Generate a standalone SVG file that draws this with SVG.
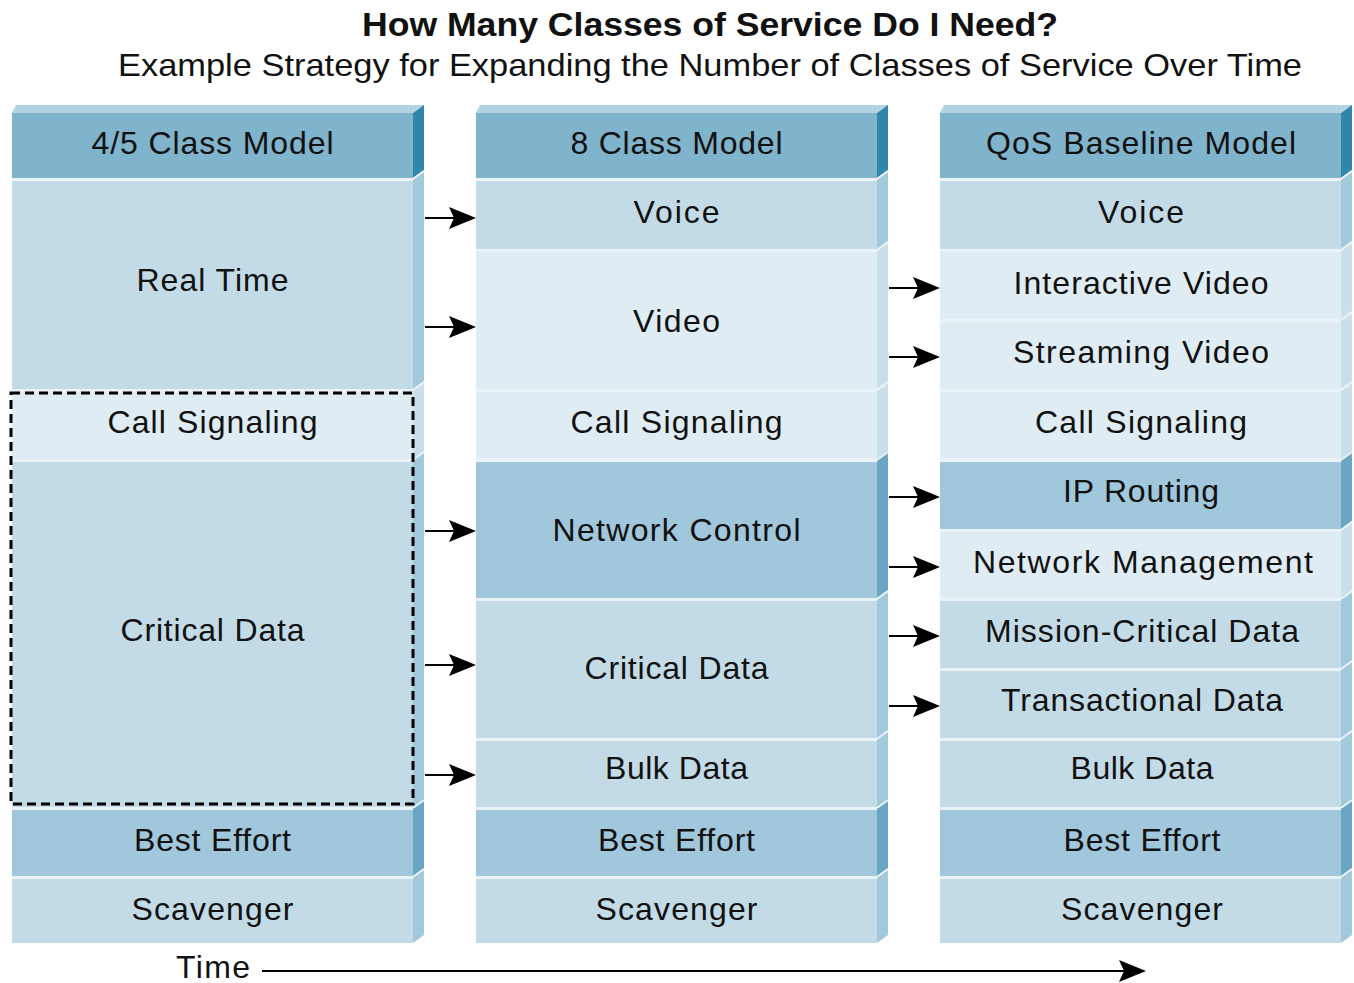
<svg xmlns="http://www.w3.org/2000/svg" width="1354" height="983" viewBox="0 0 1354 983">
<defs>
<style>
.lbl{font-family:"Liberation Sans",Arial,sans-serif;font-size:32px;fill:#111;text-anchor:middle}
.title{font-family:"Liberation Sans",Arial,sans-serif;font-size:34px;font-weight:bold;fill:#111;text-anchor:middle}
.sub{font-family:"Liberation Sans",Arial,sans-serif;font-size:32px;fill:#111;text-anchor:middle}
.hf{fill:#80b3cc}.hs{fill:#2f86ab}.ht{fill:#b4d3e2}
.mf{fill:#c3dbe7}.ms{fill:#a2c8db}
.lf{fill:#dfecf3}.ls{fill:#c9e0eb}
.df{fill:#a0c7db}.ds{fill:#6aa6c4}
.hl{fill:#eaf3f8}
.hle{stroke:#eaf3f8;stroke-width:2;fill:none}
.conn{stroke:#000;stroke-width:2;fill:none;marker-end:url(#ah)}
</style>
<marker id="ah" viewBox="0 0 27 22" refX="5" refY="11" markerWidth="27" markerHeight="22" markerUnits="userSpaceOnUse" orient="auto">
<path d="M0,0 L27,11 L0,22 L5,11 Z" fill="#000"/>
</marker>
</defs>
<rect width="1354" height="983" fill="#fff"/>

<g id="title">
<text class="title" x="710" y="36" textLength="696" lengthAdjust="spacingAndGlyphs">How Many Classes of Service Do I Need?</text>
<text class="sub" x="710" y="76" textLength="1184" lengthAdjust="spacingAndGlyphs">Example Strategy for Expanding the Number of Classes of Service Over Time</text>
</g>

<!-- Column 1 -->
<g id="col1">
<g id="c1-header">
<polygon class="ht" points="12,113 16,105 424,105 413,113"/>
<rect class="hf" x="12" y="113" width="401" height="65"/>
<polygon class="hs" points="413,113 424,105 424,170 413,178"/>
<text class="lbl" x="212.5" y="154" textLength="242">4/5 Class Model</text>
</g>
<g id="c1-realtime">
<rect class="mf" x="12" y="178" width="401" height="211"/>
<rect class="hl" x="12" y="178" width="401" height="3"/>
<polygon class="ms" points="413,178 424,170 424,381 413,389"/>
<line class="hle" x1="413" y1="179" x2="424" y2="171"/>
<text class="lbl" x="212.5" y="291" textLength="152">Real Time</text>
</g>
<g id="c1-callsig">
<rect class="lf" x="12" y="389" width="401" height="70"/>
<rect class="hl" x="12" y="389" width="401" height="3"/>
<polygon class="ls" points="413,389 424,381 424,451 413,459"/>
<line class="hle" x1="413" y1="390" x2="424" y2="382"/>
<text class="lbl" x="212.5" y="433" textLength="210">Call Signaling</text>
</g>
<g id="c1-critical">
<rect class="mf" x="12" y="459" width="401" height="348"/>
<rect class="hl" x="12" y="459" width="401" height="3"/>
<polygon class="ms" points="413,459 424,451 424,799 413,807"/>
<line class="hle" x1="413" y1="460" x2="424" y2="452"/>
<text class="lbl" x="212.5" y="641" textLength="184">Critical Data</text>
</g>
<g id="c1-best">
<rect class="df" x="12" y="807" width="401" height="69"/>
<rect class="hl" x="12" y="807" width="401" height="3"/>
<polygon class="ds" points="413,807 424,799 424,868 413,876"/>
<line class="hle" x1="413" y1="808" x2="424" y2="800"/>
<text class="lbl" x="212.5" y="851" textLength="157">Best Effort</text>
</g>
<g id="c1-scav">
<rect class="mf" x="12" y="876" width="401" height="67"/>
<rect class="hl" x="12" y="876" width="401" height="3"/>
<polygon class="ms" points="413,876 424,868 424,935 413,943"/>
<line class="hle" x1="413" y1="877" x2="424" y2="869"/>
<text class="lbl" x="212.5" y="920" textLength="162">Scavenger</text>
</g>
<rect id="c1-group" x="11" y="393" width="402" height="411" fill="none" stroke="#000" stroke-width="3" stroke-dasharray="9,5"/>
</g>

<!-- Column 2 -->
<g id="col2">
<g id="c2-header">
<polygon class="ht" points="476,113 480,105 888,105 877,113"/>
<rect class="hf" x="476" y="113" width="401" height="65"/>
<polygon class="hs" points="877,113 888,105 888,170 877,178"/>
<text class="lbl" x="676.5" y="154" textLength="212">8 Class Model</text>
</g>
<g id="c2-voice">
<rect class="mf" x="476" y="178" width="401" height="71"/>
<rect class="hl" x="476" y="178" width="401" height="3"/>
<polygon class="ms" points="877,178 888,170 888,241 877,249"/>
<line class="hle" x1="877" y1="179" x2="888" y2="171"/>
<text class="lbl" x="676.5" y="223" textLength="86">Voice</text>
</g>
<g id="c2-video">
<rect class="lf" x="476" y="249" width="401" height="140"/>
<rect class="hl" x="476" y="249" width="401" height="3"/>
<polygon class="ls" points="877,249 888,241 888,381 877,389"/>
<line class="hle" x1="877" y1="250" x2="888" y2="242"/>
<text class="lbl" x="676.5" y="332" textLength="87">Video</text>
</g>
<g id="c2-callsig">
<rect class="lf" x="476" y="389" width="401" height="70"/>
<rect class="hl" x="476" y="389" width="401" height="3"/>
<polygon class="ls" points="877,389 888,381 888,451 877,459"/>
<line class="hle" x1="877" y1="390" x2="888" y2="382"/>
<text class="lbl" x="676.5" y="433" textLength="212">Call Signaling</text>
</g>
<g id="c2-netctrl">
<rect class="df" x="476" y="459" width="401" height="139"/>
<rect class="hl" x="476" y="459" width="401" height="3"/>
<polygon class="ds" points="877,459 888,451 888,590 877,598"/>
<line class="hle" x1="877" y1="460" x2="888" y2="452"/>
<text class="lbl" x="676.5" y="541" textLength="248">Network Control</text>
</g>
<g id="c2-critical">
<rect class="mf" x="476" y="598" width="401" height="140"/>
<rect class="hl" x="476" y="598" width="401" height="3"/>
<polygon class="ms" points="877,598 888,590 888,730 877,738"/>
<line class="hle" x1="877" y1="599" x2="888" y2="591"/>
<text class="lbl" x="676.5" y="679" textLength="184">Critical Data</text>
</g>
<g id="c2-bulk">
<rect class="mf" x="476" y="738" width="401" height="69"/>
<rect class="hl" x="476" y="738" width="401" height="3"/>
<polygon class="ms" points="877,738 888,730 888,799 877,807"/>
<line class="hle" x1="877" y1="739" x2="888" y2="731"/>
<text class="lbl" x="676.5" y="779" textLength="143">Bulk Data</text>
</g>
<g id="c2-best">
<rect class="df" x="476" y="807" width="401" height="69"/>
<rect class="hl" x="476" y="807" width="401" height="3"/>
<polygon class="ds" points="877,807 888,799 888,868 877,876"/>
<line class="hle" x1="877" y1="808" x2="888" y2="800"/>
<text class="lbl" x="676.5" y="851" textLength="157">Best Effort</text>
</g>
<g id="c2-scav">
<rect class="mf" x="476" y="876" width="401" height="67"/>
<rect class="hl" x="476" y="876" width="401" height="3"/>
<polygon class="ms" points="877,876 888,868 888,935 877,943"/>
<line class="hle" x1="877" y1="877" x2="888" y2="869"/>
<text class="lbl" x="676.5" y="920" textLength="162">Scavenger</text>
</g>
</g>

<!-- Column 3 -->
<g id="col3">
<g id="c3-header">
<polygon class="ht" points="940,113 944,105 1352,105 1341,113"/>
<rect class="hf" x="940" y="113" width="401" height="65"/>
<polygon class="hs" points="1341,113 1352,105 1352,170 1341,178"/>
<text class="lbl" x="1141" y="154" textLength="310">QoS Baseline Model</text>
</g>
<g id="c3-voice">
<rect class="mf" x="940" y="178" width="401" height="71"/>
<rect class="hl" x="940" y="178" width="401" height="3"/>
<polygon class="ms" points="1341,178 1352,170 1352,241 1341,249"/>
<line class="hle" x1="1341" y1="179" x2="1352" y2="171"/>
<text class="lbl" x="1141" y="223" textLength="86">Voice</text>
</g>
<g id="c3-ivideo">
<rect class="lf" x="940" y="249" width="401" height="70"/>
<rect class="hl" x="940" y="249" width="401" height="3"/>
<polygon class="ls" points="1341,249 1352,241 1352,311 1341,319"/>
<line class="hle" x1="1341" y1="250" x2="1352" y2="242"/>
<text class="lbl" x="1141" y="294" textLength="255">Interactive Video</text>
</g>
<g id="c3-svideo">
<rect class="lf" x="940" y="319" width="401" height="70"/>
<rect class="hl" x="940" y="319" width="401" height="3"/>
<polygon class="ls" points="1341,319 1352,311 1352,381 1341,389"/>
<line class="hle" x1="1341" y1="320" x2="1352" y2="312"/>
<text class="lbl" x="1141" y="363" textLength="256">Streaming Video</text>
</g>
<g id="c3-callsig">
<rect class="lf" x="940" y="389" width="401" height="70"/>
<rect class="hl" x="940" y="389" width="401" height="3"/>
<polygon class="ls" points="1341,389 1352,381 1352,451 1341,459"/>
<line class="hle" x1="1341" y1="390" x2="1352" y2="382"/>
<text class="lbl" x="1141" y="433" textLength="212">Call Signaling</text>
</g>
<g id="c3-iprouting">
<rect class="df" x="940" y="459" width="401" height="70"/>
<rect class="hl" x="940" y="459" width="401" height="3"/>
<polygon class="ds" points="1341,459 1352,451 1352,521 1341,529"/>
<line class="hle" x1="1341" y1="460" x2="1352" y2="452"/>
<text class="lbl" x="1141" y="502" textLength="156">IP Routing</text>
</g>
<g id="c3-netmgmt">
<rect class="lf" x="940" y="529" width="401" height="69"/>
<rect class="hl" x="940" y="529" width="401" height="3"/>
<polygon class="ls" points="1341,529 1352,521 1352,590 1341,598"/>
<line class="hle" x1="1341" y1="530" x2="1352" y2="522"/>
<text class="lbl" x="1143" y="573" textLength="340">Network Management</text>
</g>
<g id="c3-mission">
<rect class="mf" x="940" y="598" width="401" height="70"/>
<rect class="hl" x="940" y="598" width="401" height="3"/>
<polygon class="ms" points="1341,598 1352,590 1352,660 1341,668"/>
<line class="hle" x1="1341" y1="599" x2="1352" y2="591"/>
<text class="lbl" x="1142" y="642" textLength="314">Mission-Critical Data</text>
</g>
<g id="c3-trans">
<rect class="mf" x="940" y="668" width="401" height="70"/>
<rect class="hl" x="940" y="668" width="401" height="3"/>
<polygon class="ms" points="1341,668 1352,660 1352,730 1341,738"/>
<line class="hle" x1="1341" y1="669" x2="1352" y2="661"/>
<text class="lbl" x="1142" y="711" textLength="282">Transactional Data</text>
</g>
<g id="c3-bulk">
<rect class="mf" x="940" y="738" width="401" height="69"/>
<rect class="hl" x="940" y="738" width="401" height="3"/>
<polygon class="ms" points="1341,738 1352,730 1352,799 1341,807"/>
<line class="hle" x1="1341" y1="739" x2="1352" y2="731"/>
<text class="lbl" x="1142" y="779" textLength="143">Bulk Data</text>
</g>
<g id="c3-best">
<rect class="df" x="940" y="807" width="401" height="69"/>
<rect class="hl" x="940" y="807" width="401" height="3"/>
<polygon class="ds" points="1341,807 1352,799 1352,868 1341,876"/>
<line class="hle" x1="1341" y1="808" x2="1352" y2="800"/>
<text class="lbl" x="1142" y="851" textLength="157">Best Effort</text>
</g>
<g id="c3-scav">
<rect class="mf" x="940" y="876" width="401" height="67"/>
<rect class="hl" x="940" y="876" width="401" height="3"/>
<polygon class="ms" points="1341,876 1352,868 1352,935 1341,943"/>
<line class="hle" x1="1341" y1="877" x2="1352" y2="869"/>
<text class="lbl" x="1142" y="920" textLength="162">Scavenger</text>
</g>
</g>

<g id="connectors">
<line class="conn" x1="425" y1="218" x2="454" y2="218"/>
<line class="conn" x1="425" y1="327" x2="454" y2="327"/>
<line class="conn" x1="425" y1="531" x2="454" y2="531"/>
<line class="conn" x1="425" y1="665" x2="454" y2="665"/>
<line class="conn" x1="425" y1="775" x2="454" y2="775"/>
<line class="conn" x1="889" y1="288" x2="918" y2="288"/>
<line class="conn" x1="889" y1="357" x2="918" y2="357"/>
<line class="conn" x1="889" y1="497" x2="918" y2="497"/>
<line class="conn" x1="889" y1="567" x2="918" y2="567"/>
<line class="conn" x1="889" y1="636" x2="918" y2="636"/>
<line class="conn" x1="889" y1="706" x2="918" y2="706"/>
<line class="conn" x1="262" y1="971" x2="1124" y2="971"/>
</g>

<g id="time-label">
<text class="lbl" x="213" y="978" font-size="31" textLength="74">Time</text>
</g>
</svg>
